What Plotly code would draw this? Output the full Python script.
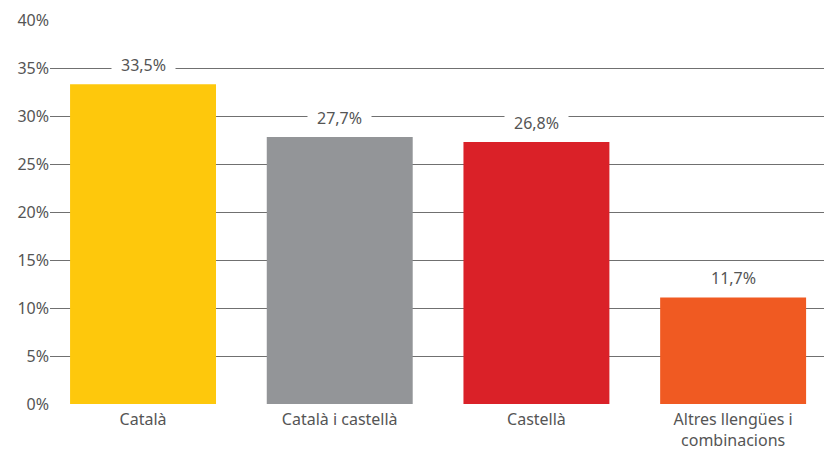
import plotly.graph_objects as go

# categories, bar heights (as drawn) and labels shown on top
categories = ["Català", "Català i castellà", "Castellà", "Altres llengües i<br>combinacions"]
values = [33.3, 27.8, 27.3, 11.1]
labels = ["33,5%", "27,7%", "26,8%", "11,7%"]
colors = ["#FEC80C", "#939598", "#DA2128", "#F05A22"]

tick_vals = [0, 5, 10, 15, 20, 25, 30, 35, 40]
tick_text = ["0%", "5%", "10%", "15%", "20%", "25%", "30%", "35%", "40%"]

font = "Noto Sans"
grey = "#555555"

fig = go.Figure()
fig.add_trace(go.Bar(
    x=list(range(len(categories))), y=values,
    marker=dict(color=colors, line=dict(width=0)),
    width=0.742,
    hoverinfo="skip",
))

# value labels with white box that cuts the gridline
for i, (v, t) in enumerate(zip(values, labels)):
    fig.add_annotation(
        x=i, y=v, text="\u2002" + t + "\u2002", showarrow=False,
        yanchor="middle", yshift=19, bgcolor="white", borderpad=1,
        font=dict(family=font, size=16, color=grey),
    )

fig.update_layout(
    width=824, height=450,
    margin=dict(l=50, r=0, t=20, b=46, autoexpand=False),
    plot_bgcolor="white", paper_bgcolor="white",
    showlegend=False,
    font=dict(family=font, size=16, color=grey),
    xaxis=dict(
        range=[-0.473, 3.462],
        tickvals=list(range(len(categories))), ticktext=categories,
        showgrid=False, zeroline=False, showline=False, ticks="",
        ticklabelstandoff=4,
        tickfont=dict(family=font, size=16, color=grey),
    ),
    yaxis=dict(
        range=[0, 40], tickvals=tick_vals, ticktext=tick_text,
        showgrid=True, gridcolor="#707070", gridwidth=1,
        zeroline=False, showline=False, ticks="", ticklen=0,
        tickfont=dict(family=font, size=16, color=grey),
    ),
)

fig.write_html(
    "out.html",
    config={"displayModeBar": False},
    post_script="document.body.style.margin='0';document.body.style.overflow='hidden';",
)
